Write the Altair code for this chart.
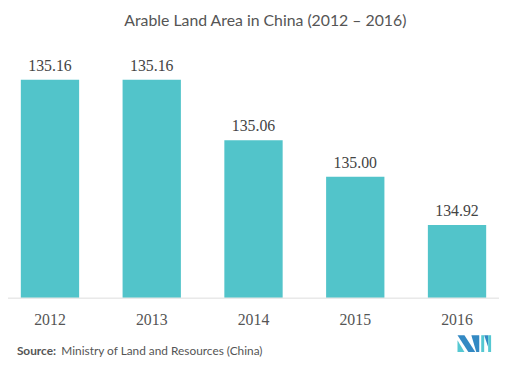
import altair as alt
import pandas as pd

years = ["2012", "2013", "2014", "2015", "2016"]
values = [135.16, 135.16, 135.06, 135.00, 134.92]
labels = ["135.16", "135.16", "135.06", "135.00", "134.92"]
y_domain = [134.8, 135.2]
title_text = "Arable Land Area in China (2012 – 2016)"
source_bold = "Source:"
source_rest = "Ministry of Land and Resources (China)"

df = pd.DataFrame({"year": years, "value": values, "label": labels})
one = pd.DataFrame({"a": [0]})

W, H = 497, 245

x = alt.X(
    "year:N", sort=years,
    scale=alt.Scale(paddingInner=0.427, paddingOuter=0.126),
    axis=alt.Axis(title=None, labelAngle=0, domain=False, ticks=False,
                  labelFont="Liberation Serif", labelFontSize=16,
                  labelColor="#555555", labelPadding=14),
)
y = alt.Y("value:Q", scale=alt.Scale(domain=y_domain, zero=False, nice=False, clamp=True), axis=None)

bars = alt.Chart(df).mark_bar(color="#52C4CA").encode(x=x, y=y, y2=alt.datum(y_domain[0]))
text = alt.Chart(df).mark_text(
    font="Liberation Serif", fontSize=16, color="#444444", baseline="alphabetic", dy=-9
).encode(x=x, y=y, text="label:N")

base_rule = alt.Chart(one).mark_rule(color="#dddddd", strokeWidth=1).encode(
    x=alt.value(-8), x2=alt.value(499), y=alt.value(245.5)
)

src1 = alt.Chart(one).mark_text(
    font="Lato", fontSize=12, fontWeight="bold", color="#555555", align="left", baseline="alphabetic"
).encode(x=alt.value(9), y=alt.value(303), text=alt.value(source_bold))
src2 = alt.Chart(one).mark_text(
    font="Lato", fontSize=12, color="#555555", align="left", baseline="alphabetic"
).encode(x=alt.value(54), y=alt.value(303), text=alt.value(source_rest))

DARK = "#3389C3"
TEAL = "#55C8D2"
logo_shapes = [
    ("M -1 -0.5 L -0.588 -0.5 L 0.059 0.5 L -0.353 0.5 Z", DARK),
    ("M -1 -0.206 L -1 0.5 L -0.588 0.5 Z", TEAL),
    ("M -0.176 -0.5 L 0.294 -0.5 L 0.294 0.5 L 0.118 0.5 Z", DARK),
    ("M 0.412 -0.5 L 0.588 -0.5 L 0.588 0.5 L 0.412 0.5 Z", TEAL),
    ("M 0.588 -0.5 L 0.824 -0.5 L 0.824 0.206 Z", DARK),
    ("M 0.824 -0.5 L 1 -0.5 L 1 0.5 L 0.824 0.5 Z", TEAL),
]
logo_layers = [
    alt.Chart(one).mark_point(shape=p, filled=True, size=1156, opacity=1, color=c, strokeWidth=0)
    .encode(x=alt.value(472), y=alt.value(291.5))
    for p, c in logo_shapes
]

chart = alt.layer(bars, base_rule, text, src1, src2, *logo_layers).properties(
    width=W, height=H,
    padding={"left": 0, "top": 46, "right": 0, "bottom": 70},
    autosize=alt.AutoSizeParams(type="none"),
    title=alt.TitleParams(title_text, font="Lato", fontSize=16, color="#555555",
                          fontWeight="normal", offset=27, dx=12, anchor="middle"),
).configure_view(stroke=None)

chart.save("out.html", embed_options={"renderer": "svg", "actions": False})
